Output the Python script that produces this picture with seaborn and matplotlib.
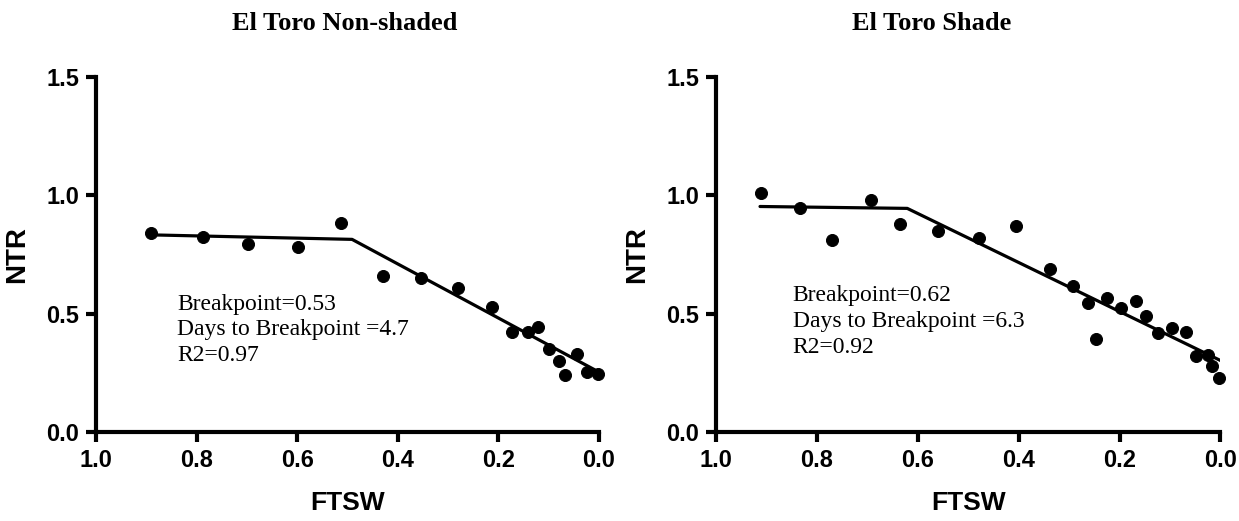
import seaborn as sns
import matplotlib
matplotlib.use("Agg")
from matplotlib import pyplot as plt

# El Toro non-shaded: observed points and fitted segmented line
ftsw_ns = [0.890, 0.787, 0.698, 0.598, 0.513, 0.429, 0.353, 0.280, 0.212, 0.173,
           0.142, 0.121, 0.099, 0.079, 0.067, 0.043, 0.024, 0.002]
ntr_ns = [0.843, 0.822, 0.796, 0.783, 0.882, 0.661, 0.649, 0.609, 0.527, 0.422,
          0.422, 0.442, 0.351, 0.300, 0.241, 0.330, 0.255, 0.244]
fit_x_ns = [0.890, 0.491, 0.002]
fit_y_ns = [0.833, 0.814, 0.255]

# El Toro shade
ftsw_sh = [0.911, 0.833, 0.770, 0.692, 0.635, 0.560, 0.479, 0.406, 0.337, 0.292,
           0.262, 0.246, 0.224, 0.198, 0.168, 0.147, 0.123, 0.097, 0.069, 0.049,
           0.025, 0.017, 0.002]
ntr_sh = [1.010, 0.945, 0.812, 0.980, 0.878, 0.850, 0.819, 0.871, 0.687, 0.616,
          0.545, 0.394, 0.567, 0.524, 0.552, 0.489, 0.418, 0.439, 0.422, 0.322,
          0.326, 0.280, 0.229]
fit_x_sh = [0.913, 0.621, 0.0]
fit_y_sh = [0.953, 0.945, 0.302]

titles = ["El Toro Non-shaded", "El Toro Shade"]
notes = ["Breakpoint=0.53\nDays to Breakpoint =4.7\nR2=0.97",
         "Breakpoint=0.62\nDays to Breakpoint =6.3\nR2=0.92"]
note_pos = [(0.839, 0.585), (0.848, 0.62)]

sns.set_style("ticks")
plt.rcParams['font.family'] = ['Liberation Sans', 'DejaVu Sans']
plt.rcParams['text.color'] = 'black'

fig = plt.figure(figsize=(12.39, 5.21), dpi=100)
ax1 = fig.add_axes([0.0775, 0.171, 0.406, 0.681])
ax2 = fig.add_axes([0.578, 0.171, 0.407, 0.681])

panels = [(ax1, ftsw_ns, ntr_ns, fit_x_ns, fit_y_ns),
          (ax2, ftsw_sh, ntr_sh, fit_x_sh, fit_y_sh)]

for i, (ax, x, y, fx, fy) in enumerate(panels):
    sns.lineplot(x=fx, y=fy, ax=ax, color="black", linewidth=2.3, sort=False)
    sns.scatterplot(x=x, y=y, ax=ax, color="black", s=75, edgecolor="black",
                    zorder=3, clip_on=False)
    ax.set_xlim(1.0, 0.0)
    ax.set_ylim(0.0, 1.5)
    ax.set_xticks([1.0, 0.8, 0.6, 0.4, 0.2, 0.0])
    ax.set_yticks([0.0, 0.5, 1.0, 1.5])
    ax.xaxis.set_major_formatter(matplotlib.ticker.FormatStrFormatter('%.1f'))
    ax.yaxis.set_major_formatter(matplotlib.ticker.FormatStrFormatter('%.1f'))
    sns.despine(ax=ax)
    for s in ["left", "bottom"]:
        ax.spines[s].set_linewidth(3.0)
        ax.spines[s].set_color("black")
    ax.tick_params(axis="both", direction="out", length=7, width=3.0,
                   color="black", labelcolor="black", labelsize=17, pad=5)
    for lab in ax.get_xticklabels() + ax.get_yticklabels():
        lab.set_fontweight("bold")
    ax.set_xlabel("FTSW", fontsize=19, fontweight="bold", labelpad=14, color="black")
    ax.set_ylabel("NTR", fontsize=20, fontweight="bold", labelpad=12, color="black")
    ax.text(note_pos[i][0], note_pos[i][1], notes[i], family="Liberation Serif",
            fontsize=17, va="top", linespacing=1.3, color="black")

fig.text(0.278, 0.954, titles[0], family="Liberation Serif", fontsize=19,
         fontweight="bold", ha="center", va="center", color="black")
fig.text(0.752, 0.954, titles[1], family="Liberation Serif", fontsize=19,
         fontweight="bold", ha="center", va="center", color="black")

fig.savefig("out.png", dpi=100)
